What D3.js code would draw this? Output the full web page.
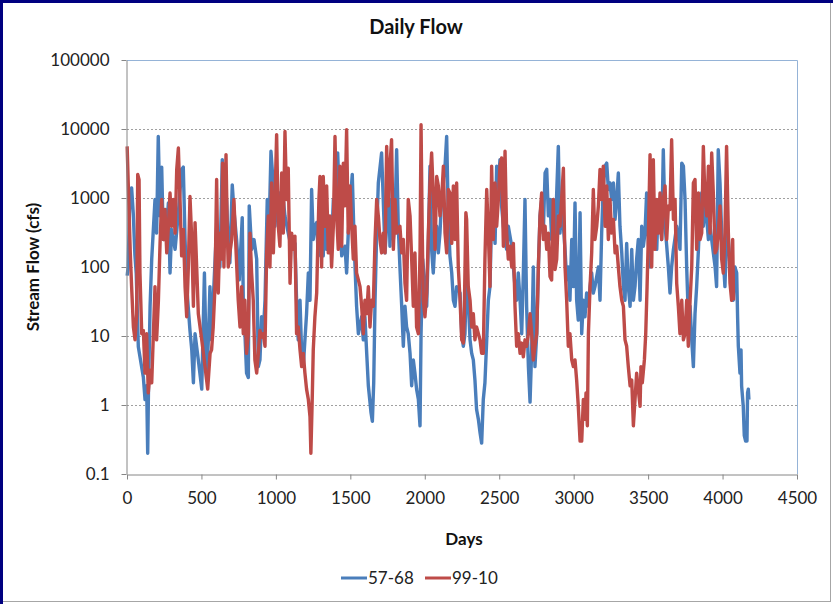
<!DOCTYPE html>
<html>
<head>
<meta charset="utf-8">
<script src="https://cdn.jsdelivr.net/npm/d3@7"></script>
<style>
body{margin:0;background:#fff;}
svg{display:block;font-family:Lato,"Open Sans",sans-serif;}
</style>
</head>
<body>
<div id="svg-container"></div>
<script>
// [day, cfs] turning points
const flow5768=[[1,75],[8,100],[18,900],[31,1400],[42,600],[53,150],[62,80],[76,7],[110,2.5],[121,1.2],[132,1.9],[139,0.2],[144,1.5],[155,27],[166,130],[177,350],[188,950],[199,310],[210,7800],[222,550],[233,2800],[244,250],[256,680],[267,390],[278,850],[289,82],[300,350],[323,180],[345,610],[367,2600],[378,2800],[390,250],[401,52],[423,12],[435,6.3],[446,2.1],[457,10.8],[479,4.5],[502,1.7],[520,82],[535,2.3],[548,10.8],
[557,52],[568,8.8],[579,33],[602,390],[624,100],[640,3600],[651,550],[669,950],[680,200],[691,115],[707,1550],[718,680],[736,250],[754,65],[774,520],[781,33],[792,10.8],[803,2.9],[815,2.5],[821,770],[837,180],[853,250],[871,130],[882,3.6],[893,4.5],[904,19],[915,10.8],[927,33],[942,950],[956,490],[967,4750],[983,1500],[994,390],[1005,950],[1027,1180],[1045,1180],[1061,550],[1083,310],[1106,180],
[1128,220],[1139,33],[1150,8.8],[1162,33],[1173,5.6],[1184,3.6],[1195,8.8],[1206,21],[1218,82],[1229,33],[1240,1330],[1251,250],[1262,390],[1274,440],[1285,145],[1296,950],[1307,390],[1318,145],[1330,680],[1341,180],[1352,550],[1374,220],[1386,950],[1397,550],[1415,4500],[1430,550],[1442,145],[1464,200],[1475,82],[1486,310],[1498,770],[1513,2200],[1527,180],[1542,27],[1554,10.8],[1576,19],[1587,8.8],[1598,19],[1610,5.6],[1621,1.9],[1639,0.77],[1648,0.58],[1657,2.1],[1666,33],[1677,310],[1688,1650],
[1710,4500],[1721,950],[1733,160],[1744,390],[1755,2900],[1766,200],[1777,950],[1789,250],[1800,490],[1811,5000],[1822,390],[1833,100],[1845,27],[1856,7.1],[1867,27],[1878,13.5],[1889,10.8],[1901,5.6],[1912,1.9],[1923,4.5],[1934,2.9],[1945,1.7],[1957,1.2],[1968,0.5],[1975,10.8],[1986,130],[2001,52],[2013,27],[2024,220],[2035,2900],[2046,180],[2057,82],[2069,250],[2080,390],[2091,160],[2102,310],[2113,950],[2125,1650],[2136,2900],[2147,7800],[2158,550],[2169,145],[2181,82],[2192,33],[2203,27],[2214,52],[2237,42],[2248,10.8],[2259,7.1],
[2270,10.8],[2281,100],[2292,33],[2304,8.8],[2315,5.6],[2326,4.5],[2337,2.3],[2348,0.86],[2360,0.62],[2371,0.4],[2382,0.28],[2393,1.2],[2404,2.1],[2416,8.8],[2427,33],[2438,52],[2449,610],[2460,1180],[2472,220],[2483,2900],[2494,1500],[2505,3600],[2516,770],[2528,390],[2539,220],[2550,180],[2561,390],[2584,200],[2595,100],[2606,52],[2617,33],[2628,82],[2640,33],[2651,10.8],[2662,82],[2673,950],[2684,27],[2696,3.6],[2707,1.1],[2718,6.3],[2729,100],[2740,3.6],[2752,10.8],[2763,100],[2774,550],[2785,950],[2796,310],[2808,2300],[2819,2600],[2830,550],
[2841,950],[2852,250],[2863,950],[2875,160],[2886,1180],[2897,5600],[2908,310],[2919,680],[2931,390],[2942,180],[2953,65],[2964,100],[2975,33],[2987,250],[2998,52],[3009,850],[3020,33],[3031,17],[3043,610],[3054,10.8],[3065,33],[3076,19],[3087,42],[3099,27],[3110,52],[3121,82],[3132,42],[3143,52],[3166,100],[3177,33],[3188,310],[3199,1500],[3211,2900],[3222,3200],[3233,1330],[3244,1650],[3255,950],[3267,1650],[3278,490],[3289,950],[3300,2300],[3311,390],[3323,160],[3334,52],[3345,33],[3356,220],[3367,52],[3379,27],[3390,180],[3401,33],
[3412,52],[3423,130],[3434,250],[3446,33],[3457,390],[3468,200],[3479,310],[3490,1180],[3502,220],[3513,100],[3524,250],[3535,950],[3546,390],[3558,180],[3569,950],[3580,610],[3591,250],[3602,5000],[3614,390],[3625,200],[3636,100],[3647,42],[3658,100],[3670,180],[3692,390],[3714,180],[3726,3200],[3737,2900],[3748,950],[3759,100],[3770,19],[3782,27],[3793,8.8],[3804,3.6],[3815,21],[3826,52],[3838,180],[3849,770],[3860,1180],[3871,390],[3882,770],[3894,490],[3905,250],[3916,390],[3938,160],[3950,100],
[3960,52],[3971,5000],[3983,1650],[3994,310],[4005,130],[4016,52],[4027,310],[4039,250],[4050,100],[4061,52],[4072,33],[4083,100],[4095,82],[4101,19],[4106,7.1],[4117,2.9],[4124,6.3],[4128,1.9],[4139,0.96],[4146,0.36],[4155,0.3],[4164,0.3],[4168,1.5],[4173,1.7],[4177,1.2]];

const flow9910=[[1,5600],[22,160],[31,52],[43,13.5],[54,8.8],[65,21],[72,2200],[81,1850],[87,82],[99,10.8],[110,12],[121,2.9],[132,10.8],[143,1.5],[155,3.2],[166,2.1],[188,52],[199,8.8],[211,33],[222,220],[233,950],[244,250],[255,680],[267,160],[278,390],[289,1180],[300,390],[311,950],[323,310],[334,2600],[345,5300],[356,950],[367,145],[379,350],[390,52],[401,19],[412,100],[423,1050],[435,250],[446,27],[457,440],[468,100],[479,21],[502,8.8],[524,3.6],[542,1.7],[558,5.6],
[568,6.3],[579,13.5],[591,52],[602,1850],[613,42],[624,310],[635,130],[642,3200],[651,100],[665,4250],[673,390],[680,100],[691,160],[703,250],[718,950],[732,180],[747,33],[759,13.5],[770,52],[781,10.8],[792,33],[803,5.6],[815,10.8],[826,310],[837,82],[848,33],[859,4.5],[871,2.9],[882,5.6],[893,12],[904,9.6],[915,10.8],[927,7.1],[938,160],[949,550],[960,100],[971,1650],[983,160],[994,950],[1005,8300],[1016,390],[1027,200],[1039,2300],[1050,310],[1061,9200],[1072,950],[1083,2700],[1095,58],[1106,310],[1117,180],
[1128,280],[1139,10.8],[1150,13.5],[1162,6.3],[1173,3.6],[1184,5.6],[1195,2.9],[1206,1.7],[1218,1.2],[1229,0.68],[1235,0.2],[1244,1.2],[1251,6.3],[1262,19],[1274,42],[1280,160],[1289,950],[1296,2050],[1307,100],[1318,2050],[1330,390],[1341,1500],[1352,160],[1363,550],[1374,100],[1386,390],[1397,7800],[1408,550],[1419,180],[1430,2900],[1442,200],[1453,3200],[1464,770],[1475,9800],[1486,310],[1498,1500],[1509,390],[1520,130],[1531,390],[1542,82],[1554,65],[1565,52],[1576,27],[1587,10.8],[1598,33],[1610,21],[1621,52],[1632,13.5],[1643,33],[1654,27],[1666,250],[1677,950],[1688,550],
[1699,250],[1710,160],[1721,310],[1733,160],[1744,5600],[1755,770],[1766,2900],[1777,7000],[1789,180],[1800,950],[1811,310],[1822,350],[1833,390],[1845,160],[1856,250],[1867,58],[1878,33],[1889,950],[1901,550],[1912,130],[1923,27],[1934,160],[1945,13.5],[1957,10.8],[1968,160],[1975,11500],[1983,310],[1990,33],[2001,19],[2013,42],[2024,310],[2035,1650],[2046,4500],[2057,1180],[2069,180],[2080,2050],[2091,1500],[2102,550],[2113,950],[2125,2900],[2136,310],[2147,160],[2158,1330],[2169,1180],[2181,220],[2192,1500],[2203,250],[2214,1650],[2225,100],[2237,33],[2248,8.8],[2259,7.9],[2265,19],
[2276,610],[2281,490],[2292,52],[2304,33],[2315,13.5],[2326,21],[2337,8.8],[2348,13.5],[2360,10.8],[2371,8.8],[2382,5.6],[2393,5.6],[2404,130],[2416,1330],[2427,310],[2438,52],[2449,2900],[2460,250],[2472,1650],[2483,390],[2494,950],[2505,2900],[2516,3800],[2528,200],[2539,4750],[2550,310],[2561,130],[2572,200],[2584,100],[2595,220],[2606,27],[2617,7.1],[2628,10.8],[2640,5.6],[2651,7.9],[2662,5],[2673,8.8],[2684,7.1],[2696,10.8],[2707,21],[2718,10.8],[2729,4.5],[2740,7.1],[2752,10.8],[2763,100],[2774,550],[2785,1180],[2796,250],[2808,390],[2819,180],[2830,310],
[2841,73],[2852,65],[2863,950],[2875,92],[2886,130],[2897,550],[2908,390],[2919,950],[2931,2700],[2942,100],[2953,33],[2964,7.1],[2975,10.8],[2987,4.5],[2998,3.6],[3009,4.5],[3020,2.3],[3031,0.96],[3043,0.3],[3054,0.3],[3065,1.2],[3076,0.62],[3083,1.5],[3092,0.5],[3099,10.8],[3110,52],[3121,160],[3132,1330],[3143,250],[3155,390],[3166,770],[3177,2600],[3188,950],[3199,2900],[3211,390],[3222,1500],[3233,250],[3244,950],[3255,310],[3267,490],[3278,160],[3289,200],[3300,100],[3311,52],[3323,33],[3334,27],[3345,8.8],[3356,7.1],[3367,3.6],[3379,1.9],[3390,2.3],[3401,0.5],
[3423,2.9],[3434,1.7],[3446,0.96],[3452,3.6],[3461,2.1],[3475,4.5],[3484,10.8],[3493,52],[3502,310],[3513,4250],[3524,100],[3535,3600],[3546,180],[3558,950],[3569,310],[3580,1180],[3591,250],[3602,950],[3614,1500],[3625,250],[3636,770],[3647,680],[3658,7000],[3670,490],[3681,950],[3692,58],[3703,27],[3714,10.8],[3726,33],[3737,8.8],[3748,10.8],[3759,33],[3770,7.1],[3782,33],[3793,100],[3804,1650],[3815,1850],[3826,180],[3838,1180],[3849,250],[3860,310],[3871,5600],[3882,950],[3894,550],[3905,2900],[3916,310],[3927,4500],[3938,1180],[3950,160],
[3960,180],[3971,310],[3983,770],[3994,130],[4005,82],[4016,310],[4027,5600],[4039,310],[4050,58],[4061,33],[4068,250],[4074,33]];

const seriesNames=["57-68","99-10"];
const seriesColors=["#4a7ebb","#be4b48"];
const xTicks=[0,500,1000,1500,2000,2500,3000,3500,4000,4500];
const yTicks=[0.1,1,10,100,1000,10000,100000];
const yTickLabels=["0.1","1","10","100","1000","10000","100000"];

const w=833;
const h=604;
const m={left:127,right:797,top:60,bottom:474};

window.onload=()=>{
  const svg=d3.select("#svg-container").append("svg").attr("width",w).attr("height",h);
  svg.append("rect").attr("width",w).attr("height",h).attr("fill","#fff");
  // outer frame
  svg.append("rect").attr("x",0).attr("y",0).attr("width",w).attr("height",3).attr("fill","#000080");
  svg.append("rect").attr("x",0).attr("y",0).attr("width",3).attr("height",h).attr("fill","#000080");
  svg.append("line").attr("x1",830.5).attr("x2",830.5).attr("y1",3).attr("y2",602).attr("stroke","#a6a6a6");
  svg.append("line").attr("x1",3).attr("x2",831).attr("y1",601.5).attr("y2",601.5).attr("stroke","#a6a6a6");

  const x=d3.scaleLinear().domain([0,4500]).range([m.left,m.right]);
  const y=d3.scaleLog().domain([0.1,100000]).range([m.bottom,m.top]);

  // gridlines
  svg.append("g").selectAll("line")
    .data(yTicks.slice(1))
    .enter().append("line")
    .attr("x1",m.left).attr("x2",m.right)
    .attr("y1",d=>Math.round(y(d))+0.5).attr("y2",d=>Math.round(y(d))+0.5)
    .attr("stroke","#a0a0a0").attr("stroke-dasharray","2,2");

  // plot border top/right
  svg.append("path")
    .attr("d",`M${m.left},${m.top+0.5}H${m.right+0.5}V${m.bottom}`)
    .attr("fill","none").attr("stroke","#95b3d7");

  const line=d3.line().x(d=>x(d[0])).y(d=>y(d[1]));
  [flow5768,flow9910].forEach((s,i)=>{
    svg.append("path").datum(s)
      .attr("d",line)
      .attr("fill","none")
      .attr("stroke",seriesColors[i])
      .attr("stroke-width",3.4)
      .attr("stroke-linejoin","round");
  });

  const xAxis=svg.append("g").attr("transform",`translate(0,${m.bottom+0.5})`)
    .call(d3.axisBottom(x).tickValues(xTicks).tickFormat(d3.format("d")).tickSize(5).tickPadding(12).tickSizeOuter(0));
  const yAxis=svg.append("g").attr("transform",`translate(${m.left-0.5},0)`)
    .call(d3.axisLeft(y).tickValues(yTicks).tickFormat((d,i)=>yTickLabels[i]).tickSize(5).tickPadding(12).tickSizeOuter(0));
  [xAxis,yAxis].forEach(a=>{
    a.select(".domain").attr("stroke","#868686");
    a.selectAll(".tick line").attr("stroke","#868686");
    a.selectAll(".tick text").attr("fill","#222").style("font-size","17px").style("font-family","Lato,sans-serif");
  });

  svg.append("text").attr("x",416).attr("y",34).attr("text-anchor","middle")
    .style("font-size","20px").style("font-weight","bold").attr("fill","#111").text("Daily Flow");
  svg.append("text").attr("x",464).attr("y",545).attr("text-anchor","middle")
    .style("font-size","17px").style("font-weight","bold").attr("fill","#111").text("Days");
  svg.append("text").attr("transform","translate(39,267) rotate(-90)").attr("text-anchor","middle")
    .style("font-size","17px").style("font-weight","bold").attr("fill","#111").text("Stream Flow (cfs)");

  // legend
  const lg=svg.append("g").selectAll("g").data(seriesNames).enter().append("g")
    .attr("transform",(d,i)=>`translate(${341+i*84},578)`);
  lg.append("line").attr("x1",0).attr("x2",26).attr("stroke",(d,i)=>seriesColors[i]).attr("stroke-width",3);
  lg.append("text").attr("x",27).attr("y",6).style("font-size","17px").attr("fill","#222").text(d=>d);
};
</script>
</body>
</html>
